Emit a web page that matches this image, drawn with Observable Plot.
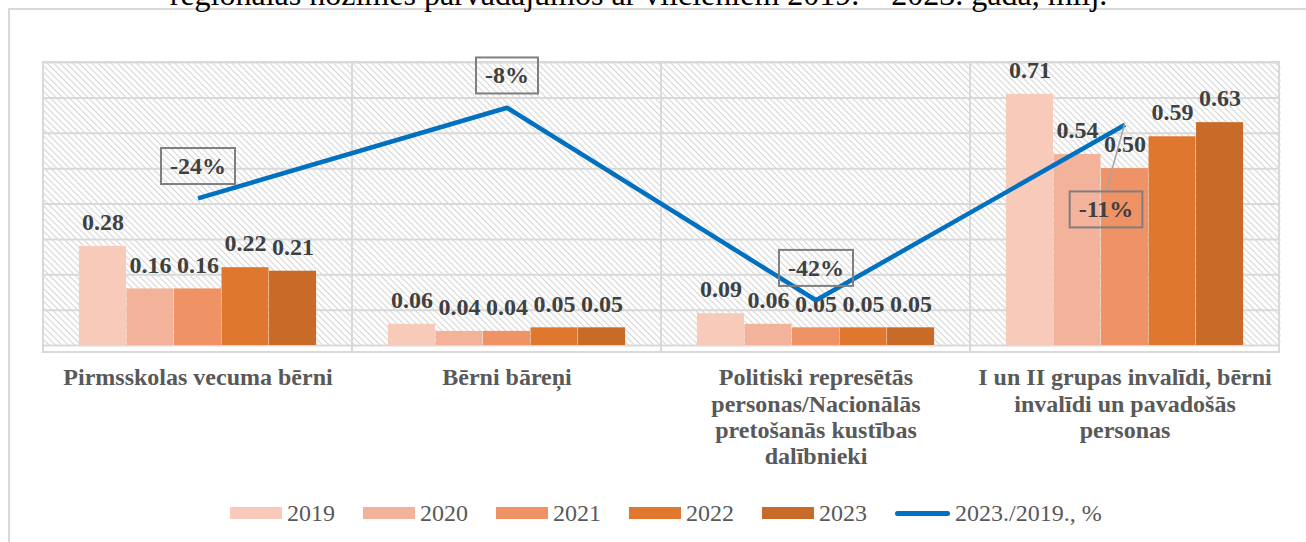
<!DOCTYPE html>
<html>
<head>
<meta charset="utf-8">
<script src="https://cdn.jsdelivr.net/npm/d3@7"></script>
<script src="https://cdn.jsdelivr.net/npm/@observablehq/plot@0.6"></script>
<style>
  html, body { margin: 0; padding: 0; background: #fff; }
  #wrap { position: relative; width: 1306px; height: 542px; overflow: hidden; background: #fff; }
  #border { position: absolute; left: 8px; top: 8px; width: 1400px; height: 600px; border-left: 2px solid #d9d9d9; border-top: 2px solid #d9d9d9; }
  #title { position: absolute; left: 0; top: -22px; width: 1277px; text-align: center; font: 32px/32px "Liberation Serif", serif; color: #000; white-space: nowrap; }
  #chart { position: absolute; left: 0; top: 0; }
  #legend { position: absolute; left: 230px; top: 500px; display: flex; align-items: center; gap: 28px; font: 24px/26px "Liberation Serif", serif; color: #595959; }
  .item { display: flex; align-items: center; gap: 5px; }
  .sw { width: 52px; height: 12px; }
  .ln { width: 55px; height: 5px; border-radius: 3px; background: #0070c0; }
</style>
</head>
<body>
<div id="wrap">
  <div id="border"></div>
  <div id="title"></div>
  <div id="chart"></div>
  <div id="legend"></div>
</div>
<script>
const title = "reģionālās nozīmes pārvadājumos ar vilcieniem 2019. – 2023. gadā, milj.";
const categories = [
  "Pirmsskolas vecuma bērni",
  "Bērni bāreņi",
  "Politiski represētās personas/Nacionālās pretošanās kustības dalībnieki",
  "I un II grupas invalīdi, bērni invalīdi un pavadošās personas"
];
const tickLabels = [
  "Pirmsskolas vecuma bērni",
  "Bērni bāreņi",
  "Politiski represētās\npersonas/Nacionālās\npretošanās kustības\ndalībnieki",
  "I un II grupas invalīdi, bērni\ninvalīdi un pavadošās\npersonas"
];
const years = ["2019", "2020", "2021", "2022", "2023"];
const v2019 = [0.28, 0.06, 0.09, 0.71];
const v2020 = [0.16, 0.04, 0.06, 0.54];
const v2021 = [0.16, 0.04, 0.05, 0.50];
const v2022 = [0.22, 0.05, 0.05, 0.59];
const v2023 = [0.21, 0.05, 0.05, 0.63];
const change = [-24, -8, -42, -11];
const lineName = "2023./2019., %";
const colors = ["#f7cab9", "#f3b29a", "#ef9265", "#e0772f", "#c86a28"];
const lineColor = "#0070c0";

const series = [v2019, v2020, v2021, v2022, v2023];
const rows = [];
years.forEach((yr, i) => categories.forEach((c, j) => rows.push({category: c, year: yr, value: series[i][j]})));
// secondary axis: -50% .. 0% mapped onto primary 0 .. 0.8
const yMax = 0.8, pctMin = -50, pctMax = 0;
const lineRows = categories.map((c, j) => ({
  category: c, pct: change[j],
  y: (change[j] - pctMin) / (pctMax - pctMin) * yMax
}));

const W = 1306, H = 490, ML = 42, MR = 26, MT = 62, MB = 145;
const band = (W - ML - MR) / categories.length;
const groupPad = band * 0.116;
const barW = (band - 2 * groupPad) / years.length;
const labelFont = {fontFamily: "Liberation Serif", fontSize: 24, fontWeight: "bold", fill: "#404040"};

const marks = [
  Plot.frame({fill: "url(#hatch)", stroke: "none"}),
  Plot.gridY({ticks: 8, stroke: "#d9d9d9", strokeOpacity: 1, strokeWidth: 2}),
  Plot.barY(categories, {x: d => d, y1: 0, y2: yMax, fill: "none", stroke: "#d9d9d9", strokeWidth: 2, insetBottom: -7})
];
years.forEach((yr, i) => {
  marks.push(Plot.barY(rows.filter(r => r.year === yr), {
    x: "category", y: "value", fill: colors[i],
    insetLeft: groupPad + i * barW, insetRight: groupPad + (years.length - 1 - i) * barW
  }));
});
years.forEach((yr, i) => {
  marks.push(Plot.text(rows.filter(r => r.year === yr), {
    x: "category", y: "value", text: d => d.value.toFixed(2),
    dx: (i - (years.length - 1) / 2) * barW, dy: -24, ...labelFont
  }));
});
marks.push(Plot.line(lineRows, {x: "category", y: "y", stroke: lineColor, strokeWidth: 4.5, strokeLinejoin: "miter", strokeLinecap: "butt"}));
marks.push(Plot.text(lineRows.slice(0, 3), {x: "category", y: "y", text: d => d.pct + "%", dy: -32, className: "pctlabel", ...labelFont}));
marks.push(Plot.text(lineRows.slice(3), {x: "category", y: "y", text: d => d.pct + "%", dx: -19, dy: 85, className: "pctlabel pctlead", ...labelFont}));
marks.push(Plot.axisX({
  label: null, tickSize: 0, tickPadding: 21, lineHeight: 1.1,
  tickFormat: d => tickLabels[categories.indexOf(d)],
  fontFamily: "Liberation Serif", fontSize: 24, fontWeight: "bold", fill: "#595959"
}));

const chart = Plot.plot({
  width: W, height: H,
  marginLeft: ML, marginRight: MR, marginTop: MT, marginBottom: MB,
  style: {fontFamily: "Liberation Serif", fontSize: "24px", background: "transparent", overflow: "visible"},
  x: {type: "band", domain: categories, padding: 0, label: null},
  y: {domain: [0, yMax], axis: null},
  marks
});
document.getElementById("chart").appendChild(chart);
document.getElementById("title").textContent = title;

// hatch pattern
const svg = d3.select(chart);
const defs = svg.insert("defs", ":first-child");
const pat = defs.append("pattern").attr("id", "hatch").attr("patternUnits", "userSpaceOnUse")
  .attr("width", 4.5).attr("height", 4.5).attr("patternTransform", "rotate(-45)");
pat.append("rect").attr("width", 4.5).attr("height", 4.5).attr("fill", "#ffffff");
pat.append("line").attr("x1", 2.25).attr("y1", 0).attr("x2", 2.25).attr("y2", 4.5)
  .attr("stroke", "#d4d4d4").attr("stroke-width", 1.1);

// boxes around percentage labels, leader line for the displaced one
const xs = chart.scale("x"), ys = chart.scale("y");
svg.selectAll("g.pctlabel text").each(function() {
  const bb = this.getBBox();
  const m = this.getCTM();
  const padX = 9, padY = 5;
  const bx = bb.x + m.e - padX, by = bb.y + m.f - padY, bw = bb.width + 2 * padX, bh = bb.height + 2 * padY;
  if (this.parentNode.getAttribute("class").includes("pctlead")) {
    const d = lineRows[3];
    const px = xs.apply(d.category) + xs.bandwidth / 2, py = ys.apply(d.y);
    svg.append("line").attr("x1", px).attr("y1", py).attr("x2", bx + bw / 2).attr("y2", by)
      .attr("stroke", "#a6a6a6").attr("stroke-width", 1.5);
  }
  svg.append("rect").attr("x", bx).attr("y", by).attr("width", bw).attr("height", bh)
    .attr("fill", "none").attr("stroke", "#7f7f7f").attr("stroke-width", 2);
});

// legend
const legend = d3.select("#legend");
years.forEach((yr, i) => {
  const it = legend.append("div").attr("class", "item");
  it.append("div").attr("class", "sw").style("background", colors[i]);
  it.append("span").text(yr);
});
const li = legend.append("div").attr("class", "item");
li.append("div").attr("class", "ln");
li.append("span").text(lineName);
</script>
</body>
</html>
